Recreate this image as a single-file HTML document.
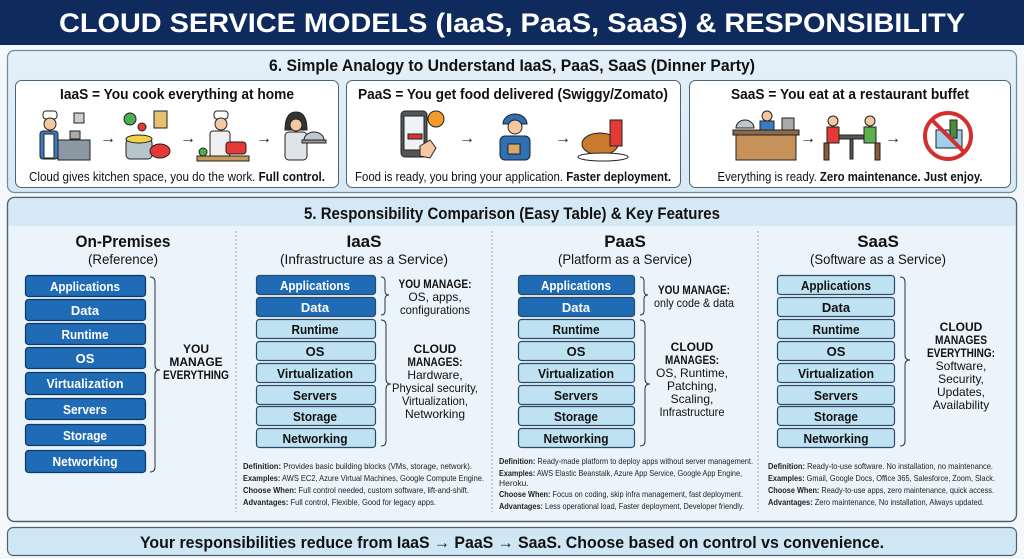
<!DOCTYPE html>
<html><head><meta charset="utf-8"><style>
html,body{margin:0;padding:0;background:#fff;}
svg{display:block;font-family:"Liberation Sans Narrow","Liberation Sans",sans-serif;}
</style></head><body>
<svg width="1024" height="559" viewBox="0 0 1024 559" xmlns="http://www.w3.org/2000/svg">
<defs>
<linearGradient id="bg" x1="0" y1="0" x2="0" y2="1"><stop offset="0" stop-color="#e4f0f9"/><stop offset="1" stop-color="#d7e9f5"/></linearGradient>
</defs>
<rect width="1024" height="559" fill="#f4f8fb"/>
<!-- Title -->
<rect x="0" y="0" width="1024" height="45" fill="#0f2a5c"/>
<text x="512" y="32" text-anchor="middle" font-size="27" font-weight="bold" fill="#fff" textLength="906" lengthAdjust="spacingAndGlyphs">CLOUD SERVICE MODELS (IaaS, PaaS, SaaS) &amp; RESPONSIBILITY</text>

<!-- Section 6 -->
<rect x="7.5" y="50.5" width="1009" height="142" rx="7" fill="url(#bg)" stroke="#6f8aa0" stroke-width="1.2"/>
<text x="512" y="71" text-anchor="middle" font-size="17" font-weight="bold" fill="#111" textLength="486" lengthAdjust="spacingAndGlyphs">6. Simple Analogy to Understand IaaS, PaaS, SaaS (Dinner Party)</text>
<rect x="15.5" y="80.5" width="323" height="107" rx="6" fill="#fff" stroke="#4a6478" stroke-width="1"/>
<rect x="346.5" y="80.5" width="334" height="107" rx="6" fill="#fff" stroke="#4a6478" stroke-width="1"/>
<rect x="689.5" y="80.5" width="321" height="107" rx="6" fill="#fff" stroke="#4a6478" stroke-width="1"/>
<g font-size="15" font-weight="bold" fill="#111" text-anchor="middle">
<text x="177" y="99" textLength="234" lengthAdjust="spacingAndGlyphs">IaaS = You cook everything at home</text>
<text x="513" y="99" textLength="310" lengthAdjust="spacingAndGlyphs">PaaS = You get food delivered (Swiggy/Zomato)</text>
<text x="850" y="99" textLength="238" lengthAdjust="spacingAndGlyphs">SaaS = You eat at a restaurant buffet</text>
</g>
<g font-size="13" fill="#111" text-anchor="middle">
<text x="177" y="181" textLength="296" lengthAdjust="spacingAndGlyphs">Cloud gives kitchen space, you do the work. <tspan font-weight="bold">Full control.</tspan></text>
<text x="513" y="181" textLength="316" lengthAdjust="spacingAndGlyphs">Food is ready, you bring your application. <tspan font-weight="bold">Faster deployment.</tspan></text>
<text x="850" y="181" textLength="265" lengthAdjust="spacingAndGlyphs">Everything is ready. <tspan font-weight="bold">Zero maintenance. Just enjoy.</tspan></text>
</g>
<!-- arrows -->
<g font-size="16" fill="#222" text-anchor="middle">
<text x="108" y="143">→</text><text x="188" y="143">→</text><text x="264" y="143">→</text>
<text x="467" y="143">→</text><text x="563" y="143">→</text>
<text x="808" y="143">→</text><text x="893" y="143">→</text>
</g>
<!-- icons card1 -->
<g stroke="#222" stroke-width="1">
<!-- cook at kitchen -->
<rect x="43" y="111" width="14" height="8" rx="3" fill="#fff"/><circle cx="50" cy="124" r="6" fill="#f4c9a2"/>
<rect x="40" y="131" width="18" height="28" rx="3" fill="#3a7cc0"/><rect x="44" y="134" width="10" height="24" fill="#fff"/>
<rect x="58" y="140" width="32" height="20" fill="#8b98a4"/><rect x="74" y="113" width="10" height="10" fill="#ccc"/>
<rect x="70" y="131" width="10" height="8" fill="#aaa"/>
<!-- ingredients -->
<circle cx="130" cy="119" r="6" fill="#4caf50"/><circle cx="142" cy="127" r="4" fill="#e53935"/>
<rect x="154" y="111" width="13" height="17" fill="#e8c070"/><rect x="126" y="139" width="26" height="20" rx="4" fill="#b8c4cc"/>
<ellipse cx="139" cy="139" rx="13" ry="4" fill="#f2d04a"/><ellipse cx="160" cy="151" rx="10" ry="7" fill="#e53935"/>
<!-- chef -->
<rect x="214" y="111" width="14" height="8" rx="3" fill="#fff"/><circle cx="221" cy="124" r="6" fill="#f4c9a2"/>
<rect x="210" y="131" width="20" height="26" rx="3" fill="#f0f0f0"/><rect x="226" y="142" width="20" height="12" rx="3" fill="#e53935"/>
<rect x="197" y="156" width="52" height="5" fill="#c79a5b"/><circle cx="203" cy="152" r="4" fill="#4caf50"/>
<!-- server woman -->
<path d="M285 130 q0 -18 11 -18 q11 0 11 18 z" fill="#333"/><circle cx="296" cy="125" r="6" fill="#f4c9a2"/>
<rect x="285" y="132" width="22" height="28" rx="4" fill="#dfe4e8"/><path d="M304 140 a10 8 0 0 1 20 0 z" fill="#c0c8cf"/><rect x="302" y="140" width="24" height="3" fill="#999"/>
</g>
<!-- icons card2 -->
<g stroke="#222" stroke-width="1">
<rect x="401" y="111" width="26" height="46" rx="4" fill="#555"/><rect x="404" y="116" width="20" height="34" fill="#eef3f7"/>
<rect x="408" y="134" width="14" height="5" fill="#d33"/><circle cx="436" cy="119" r="8" fill="#f39a2a"/>
<path d="M420 146 l10 -6 l6 8 l-6 10 l-10 -2z" fill="#f4c9a2"/>
<path d="M503 124 a12 10 0 0 1 24 0 z" fill="#2f6fb3"/><circle cx="515" cy="127" r="7" fill="#f4c9a2"/>
<rect x="500" y="136" width="30" height="24" rx="5" fill="#2f6fb3"/><rect x="508" y="144" width="12" height="10" fill="#d9a86a"/>
<ellipse cx="600" cy="144" rx="18" ry="11" fill="#c97a2c"/><rect x="610" y="120" width="12" height="26" fill="#e53935"/>
<ellipse cx="603" cy="157" rx="25" ry="4" fill="#fff"/>
</g>
<!-- icons card3 -->
<g stroke="#222" stroke-width="1">
<rect x="736" y="134" width="60" height="26" fill="#c7915a"/><rect x="733" y="130" width="66" height="5" fill="#8a6a4a"/>
<path d="M736 128 a9 8 0 0 1 18 0 z" fill="#bfc7ce"/><circle cx="767" cy="116" r="5" fill="#f4c9a2"/><rect x="760" y="121" width="14" height="9" fill="#3a7cc0"/>
<rect x="782" y="118" width="12" height="12" fill="#aaa"/>
<rect x="838" y="135" width="28" height="4" fill="#555"/><rect x="850" y="139" width="3" height="20" fill="#555"/>
<circle cx="833" cy="121" r="5" fill="#f4c9a2"/><rect x="827" y="127" width="12" height="16" fill="#e53935"/>
<circle cx="870" cy="121" r="5" fill="#f4c9a2"/><rect x="864" y="127" width="12" height="16" fill="#59b04c"/>
<rect x="824" y="143" width="5" height="17" fill="#8a5a3a"/><rect x="875" y="143" width="5" height="17" fill="#8a5a3a"/>
<rect x="936" y="130" width="26" height="18" fill="#9fd0ea"/><rect x="950" y="120" width="7" height="18" fill="#4c8a3c"/>
<circle cx="948" cy="136" r="23" fill="none" stroke="#d32f2f" stroke-width="4"/><line x1="932" y1="120" x2="964" y2="152" stroke="#d32f2f" stroke-width="4"/>
</g>

<!-- Section 5 -->
<rect x="7.5" y="197.5" width="1009" height="324" rx="7" fill="#eaf4fa" stroke="#4c6070" stroke-width="1.4"/>
<path d="M8.5 226 V204 a6 6 0 0 1 6 -6 H1009 a6 6 0 0 1 6 6 V226 Z" fill="#d5e8f5"/>
<text x="512" y="219" text-anchor="middle" font-size="17" font-weight="bold" fill="#111" textLength="416" lengthAdjust="spacingAndGlyphs">5. Responsibility Comparison (Easy Table) &amp; Key Features</text>
<g stroke="#9aa8b4" stroke-width="1" stroke-dasharray="2,2">
<line x1="236" y1="231" x2="236" y2="512"/><line x1="492" y1="231" x2="492" y2="512"/><line x1="758" y1="231" x2="758" y2="512"/>
</g>
<g text-anchor="middle" fill="#111">
<text x="123" y="247" font-size="17" font-weight="bold" textLength="95" lengthAdjust="spacingAndGlyphs">On-Premises</text>
<text x="123" y="264" font-size="14" textLength="70" lengthAdjust="spacingAndGlyphs">(Reference)</text>
<text x="364" y="247" font-size="17" font-weight="bold">IaaS</text>
<text x="364" y="264" font-size="14" textLength="168" lengthAdjust="spacingAndGlyphs">(Infrastructure as a Service)</text>
<text x="625" y="247" font-size="17" font-weight="bold">PaaS</text>
<text x="625" y="264" font-size="14" textLength="134" lengthAdjust="spacingAndGlyphs">(Platform as a Service)</text>
<text x="878" y="247" font-size="17" font-weight="bold">SaaS</text>
<text x="878" y="264" font-size="14" textLength="136" lengthAdjust="spacingAndGlyphs">(Software as a Service)</text>
</g>

<!-- On-prem stack -->
<g font-size="13" font-weight="bold" text-anchor="middle">
<g fill="#1f6bb5" stroke="#0e3a6a" stroke-width="1.2">
<rect x="25.5" y="275.5" width="120" height="21" rx="3"/><rect x="25.5" y="299.5" width="120" height="21" rx="3"/>
<rect x="25.5" y="323.5" width="120" height="21" rx="3"/><rect x="25.5" y="347.5" width="120" height="21" rx="3"/>
<rect x="25.5" y="372.5" width="120" height="22" rx="3"/><rect x="25.5" y="398.5" width="120" height="21" rx="3"/>
<rect x="25.5" y="424.5" width="120" height="21" rx="3"/><rect x="25.5" y="450.5" width="120" height="22" rx="3"/>
</g>
<g fill="#fff">
<text x="85" y="291" textLength="70" lengthAdjust="spacingAndGlyphs">Applications</text>
<text x="85" y="315">Data</text>
<text x="85" y="339" textLength="47" lengthAdjust="spacingAndGlyphs">Runtime</text>
<text x="85" y="363">OS</text>
<text x="85" y="388" textLength="77" lengthAdjust="spacingAndGlyphs">Virtualization</text>
<text x="85" y="414" textLength="44" lengthAdjust="spacingAndGlyphs">Servers</text>
<text x="85" y="440" textLength="44" lengthAdjust="spacingAndGlyphs">Storage</text>
<text x="85" y="466" textLength="65" lengthAdjust="spacingAndGlyphs">Networking</text>
</g>
</g>

<!-- generic stacks: IaaS x=256, PaaS x=518, SaaS x=777 -->
<g font-size="13" font-weight="bold" text-anchor="middle">
<!-- IaaS -->
<g stroke="#2b4a66" stroke-width="1.2">
<rect x="256.5" y="275.5" width="119" height="19" rx="3" fill="#1f6bb5"/><rect x="256.5" y="297.5" width="119" height="19" rx="3" fill="#1f6bb5"/>
<rect x="256.5" y="319.5" width="119" height="19" rx="3" fill="#bfe2f2"/><rect x="256.5" y="341.5" width="119" height="19" rx="3" fill="#bfe2f2"/>
<rect x="256.5" y="363.5" width="119" height="19" rx="3" fill="#bfe2f2"/><rect x="256.5" y="385.5" width="119" height="19" rx="3" fill="#bfe2f2"/>
<rect x="256.5" y="406.5" width="119" height="19" rx="3" fill="#bfe2f2"/><rect x="256.5" y="428.5" width="119" height="19" rx="3" fill="#bfe2f2"/>
</g>
<text x="315" y="290" fill="#fff" textLength="70" lengthAdjust="spacingAndGlyphs">Applications</text>
<text x="315" y="312" fill="#fff">Data</text>
<g fill="#111">
<text x="315" y="334" textLength="47" lengthAdjust="spacingAndGlyphs">Runtime</text>
<text x="315" y="356">OS</text>
<text x="315" y="378" textLength="76" lengthAdjust="spacingAndGlyphs">Virtualization</text>
<text x="315" y="400" textLength="44" lengthAdjust="spacingAndGlyphs">Servers</text>
<text x="315" y="421" textLength="44" lengthAdjust="spacingAndGlyphs">Storage</text>
<text x="315" y="443" textLength="65" lengthAdjust="spacingAndGlyphs">Networking</text>
</g>
<!-- PaaS -->
<g stroke="#2b4a66" stroke-width="1.2">
<rect x="518.5" y="275.5" width="116" height="19" rx="3" fill="#1f6bb5"/><rect x="518.5" y="297.5" width="116" height="19" rx="3" fill="#1f6bb5"/>
<rect x="518.5" y="319.5" width="116" height="19" rx="3" fill="#bfe2f2"/><rect x="518.5" y="341.5" width="116" height="19" rx="3" fill="#bfe2f2"/>
<rect x="518.5" y="363.5" width="116" height="19" rx="3" fill="#bfe2f2"/><rect x="518.5" y="385.5" width="116" height="19" rx="3" fill="#bfe2f2"/>
<rect x="518.5" y="406.5" width="116" height="19" rx="3" fill="#bfe2f2"/><rect x="518.5" y="428.5" width="116" height="19" rx="3" fill="#bfe2f2"/>
</g>
<text x="576" y="290" fill="#fff" textLength="70" lengthAdjust="spacingAndGlyphs">Applications</text>
<text x="576" y="312" fill="#fff">Data</text>
<g fill="#111">
<text x="576" y="334" textLength="47" lengthAdjust="spacingAndGlyphs">Runtime</text>
<text x="576" y="356">OS</text>
<text x="576" y="378" textLength="76" lengthAdjust="spacingAndGlyphs">Virtualization</text>
<text x="576" y="400" textLength="44" lengthAdjust="spacingAndGlyphs">Servers</text>
<text x="576" y="421" textLength="44" lengthAdjust="spacingAndGlyphs">Storage</text>
<text x="576" y="443" textLength="65" lengthAdjust="spacingAndGlyphs">Networking</text>
</g>
<!-- SaaS -->
<g stroke="#2b4a66" stroke-width="1.2" fill="#bfe2f2">
<rect x="777.5" y="275.5" width="117" height="19" rx="3"/><rect x="777.5" y="297.5" width="117" height="19" rx="3"/>
<rect x="777.5" y="319.5" width="117" height="19" rx="3"/><rect x="777.5" y="341.5" width="117" height="19" rx="3"/>
<rect x="777.5" y="363.5" width="117" height="19" rx="3"/><rect x="777.5" y="385.5" width="117" height="19" rx="3"/>
<rect x="777.5" y="406.5" width="117" height="19" rx="3"/><rect x="777.5" y="428.5" width="117" height="19" rx="3"/>
</g>
<g fill="#111">
<text x="836" y="290" textLength="70" lengthAdjust="spacingAndGlyphs">Applications</text>
<text x="836" y="312">Data</text>
<text x="836" y="334" textLength="47" lengthAdjust="spacingAndGlyphs">Runtime</text>
<text x="836" y="356">OS</text>
<text x="836" y="378" textLength="76" lengthAdjust="spacingAndGlyphs">Virtualization</text>
<text x="836" y="400" textLength="44" lengthAdjust="spacingAndGlyphs">Servers</text>
<text x="836" y="421" textLength="44" lengthAdjust="spacingAndGlyphs">Storage</text>
<text x="836" y="443" textLength="65" lengthAdjust="spacingAndGlyphs">Networking</text>
</g>
</g>

<!-- braces -->
<g fill="none" stroke="#333" stroke-width="1">
<path d="M150 277 q5 0 5 5 V365 q0 5 5 5 q-5 0 -5 5 V467 q0 5 -5 5"/>
<path d="M381 277 q4 0 4 4 V291 q0 4 4 4 q-4 0 -4 4 V311 q0 4 -4 4"/>
<path d="M381 320 q5 0 5 5 V379 q0 5 5 5 q-5 0 -5 5 V441 q0 5 -5 5"/>
<path d="M640 277 q4 0 4 4 V291 q0 4 4 4 q-4 0 -4 4 V311 q0 4 -4 4"/>
<path d="M640 320 q5 0 5 5 V379 q0 5 5 5 q-5 0 -5 5 V441 q0 5 -5 5"/>
<path d="M900 277 q5 0 5 5 V355 q0 5 5 5 q-5 0 -5 5 V441 q0 5 -5 5"/>
</g>

<!-- brace notes -->
<g text-anchor="middle" fill="#111" font-size="12">
<g font-weight="bold"><text x="196" y="353">YOU</text><text x="196" y="366">MANAGE</text><text x="196" y="379" textLength="66" lengthAdjust="spacingAndGlyphs">EVERYTHING</text></g>
<text x="435" y="288" font-weight="bold" textLength="73" lengthAdjust="spacingAndGlyphs">YOU MANAGE:</text>
<text x="435" y="301">OS, apps,</text>
<text x="435" y="314" textLength="70" lengthAdjust="spacingAndGlyphs">configurations</text>
<text x="435" y="353" font-weight="bold">CLOUD</text>
<text x="435" y="366" font-weight="bold" textLength="55" lengthAdjust="spacingAndGlyphs">MANAGES:</text>
<text x="435" y="379">Hardware,</text>
<text x="435" y="392" textLength="86" lengthAdjust="spacingAndGlyphs">Physical security,</text>
<text x="435" y="405" textLength="66" lengthAdjust="spacingAndGlyphs">Virtualization,</text>
<text x="435" y="418">Networking</text>
<text x="694" y="294" font-weight="bold" textLength="72" lengthAdjust="spacingAndGlyphs">YOU MANAGE:</text>
<text x="694" y="307" textLength="80" lengthAdjust="spacingAndGlyphs">only code &amp; data</text>
<text x="692" y="351" font-weight="bold">CLOUD</text>
<text x="692" y="364" font-weight="bold" textLength="54" lengthAdjust="spacingAndGlyphs">MANAGES:</text>
<text x="692" y="377">OS, Runtime,</text>
<text x="692" y="390">Patching,</text>
<text x="692" y="403">Scaling,</text>
<text x="692" y="416" textLength="65" lengthAdjust="spacingAndGlyphs">Infrastructure</text>
<g font-weight="bold"><text x="961" y="331">CLOUD</text><text x="961" y="344" textLength="52" lengthAdjust="spacingAndGlyphs">MANAGES</text><text x="961" y="357" textLength="68" lengthAdjust="spacingAndGlyphs">EVERYTHING:</text></g>
<text x="961" y="370">Software,</text>
<text x="961" y="383">Security,</text>
<text x="961" y="396">Updates,</text>
<text x="961" y="409">Availability</text>
</g>

<!-- definitions -->
<g font-size="8.5" fill="#222">
<text x="243" y="469" textLength="229" lengthAdjust="spacingAndGlyphs"><tspan font-weight="bold">Definition:</tspan> Provides basic building blocks (VMs, storage, network).</text>
<text x="243" y="481" textLength="241" lengthAdjust="spacingAndGlyphs"><tspan font-weight="bold">Examples:</tspan> AWS EC2, Azure Virtual Machines, Google Compute Engine.</text>
<text x="243" y="493" textLength="226" lengthAdjust="spacingAndGlyphs"><tspan font-weight="bold">Choose When:</tspan> Full control needed, custom software, lift-and-shift.</text>
<text x="243" y="505" textLength="193" lengthAdjust="spacingAndGlyphs"><tspan font-weight="bold">Advantages:</tspan> Full control, Flexible, Good for legacy apps.</text>

<text x="499" y="464" textLength="254" lengthAdjust="spacingAndGlyphs"><tspan font-weight="bold">Definition:</tspan> Ready-made platform to deploy apps without server management.</text>
<text x="499" y="476" textLength="243" lengthAdjust="spacingAndGlyphs"><tspan font-weight="bold">Examples:</tspan> AWS Elastic Beanstalk, Azure App Service, Google App Engine,</text>
<text x="499" y="486">Heroku.</text>
<text x="499" y="497" textLength="244" lengthAdjust="spacingAndGlyphs"><tspan font-weight="bold">Choose When:</tspan> Focus on coding, skip infra management, fast deployment.</text>
<text x="499" y="509" textLength="245" lengthAdjust="spacingAndGlyphs"><tspan font-weight="bold">Advantages:</tspan> Less operational load, Faster deployment, Developer friendly.</text>

<text x="768" y="469" textLength="225" lengthAdjust="spacingAndGlyphs"><tspan font-weight="bold">Definition:</tspan> Ready-to-use software. No installation, no maintenance.</text>
<text x="768" y="481" textLength="227" lengthAdjust="spacingAndGlyphs"><tspan font-weight="bold">Examples:</tspan> Gmail, Google Docs, Office 365, Salesforce, Zoom, Slack.</text>
<text x="768" y="493" textLength="226" lengthAdjust="spacingAndGlyphs"><tspan font-weight="bold">Choose When:</tspan> Ready-to-use apps, zero maintenance, quick access.</text>
<text x="768" y="505" textLength="216" lengthAdjust="spacingAndGlyphs"><tspan font-weight="bold">Advantages:</tspan> Zero maintenance, No installation, Always updated.</text>
</g>

<!-- bottom bar -->
<rect x="7.5" y="527.5" width="1009" height="28" rx="6" fill="#cfe6f4" stroke="#4c6070" stroke-width="1.2"/>
<text x="512" y="548" text-anchor="middle" font-size="17" font-weight="bold" fill="#111" textLength="744" lengthAdjust="spacingAndGlyphs">Your responsibilities reduce from IaaS → PaaS → SaaS. Choose based on control vs convenience.</text>
</svg>
</body></html>
